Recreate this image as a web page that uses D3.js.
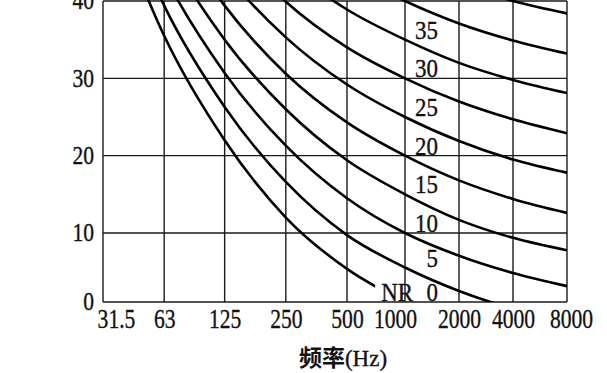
<!DOCTYPE html>
<html>
<head>
<meta charset="utf-8">
<script src="https://cdn.jsdelivr.net/npm/d3@7"></script>
<style>
  body { margin: 0; background: #fff; }
  svg { display: block; }
  text { font-family: "Liberation Serif", "DejaVu Serif", serif; fill: #111; stroke: #111; stroke-width: 0.35; }
</style>
</head>
<body>
<div id="chart"></div>
<script>
// octave band centre frequencies (Hz)
var freqs = [31.5, 63, 125, 250, 500, 1000, 2000, 4000, 8000];
var freqLabels = ["31.5", "63", "125", "250", "500", "1000", "2000", "4000", "8000"];
var yTicks = [0, 10, 20, 30, 40];

// sound pressure level (dB) of each NR curve at the frequencies above
var nr0  = [55.4, 35.5, 22.0, 12.0,  4.8,  0, -3.5, -6.1, -8.0];
var nr5  = [58.8, 39.4, 26.3, 16.6,  9.7,  5,  1.6, -1.0, -2.9];
var nr10 = [62.2, 43.4, 30.7, 21.3, 14.5, 10,  6.7,  4.2,  2.3];
var nr15 = [65.6, 47.3, 35.0, 26.0, 19.4, 15, 11.7,  9.3,  7.5];
var nr20 = [69.0, 51.3, 39.4, 30.6, 24.3, 20, 16.8, 14.4, 12.6];
var nr25 = [72.4, 55.2, 43.7, 35.3, 29.2, 25, 21.9, 19.5, 17.8];
var nr30 = [75.8, 59.2, 48.1, 39.9, 34.0, 30, 27.0, 24.7, 22.9];
var nr35 = [79.2, 63.1, 52.4, 44.6, 38.9, 35, 32.0, 29.8, 28.1];
var nr40 = [82.6, 67.1, 56.8, 49.2, 43.8, 40, 37.1, 34.9, 33.2];
var nr45 = [86.0, 71.0, 61.1, 53.9, 48.6, 45, 42.2, 40.0, 38.4];

var nrLevels = [0, 5, 10, 15, 20, 25, 30, 35, 40, 45];
var nrSeries = [nr0, nr5, nr10, nr15, nr20, nr25, nr30, nr35, nr40, nr45];
var labelledLevels = [35, 30, 25, 20, 15, 10, 5, 0];

var width = 607, height = 373;
var plotLeft = 103, plotRight = 567, plotTop = 1, plotBottom = 302;

var svg = d3.select('#chart')
  .append('svg')
  .attr('width', width)
  .attr('height', height);

// the scanned original is slightly uneven, so the scales get a few stops
var x = d3.scaleLog()
  .domain([31.5, 500, 1000, 8000])
  .range([plotLeft, 347, 405, plotRight]);
var y = d3.scaleLinear()
  .domain([0, 10, 40])
  .range([plotBottom, 233, plotTop]);

var defs = svg.append('defs');
defs.append('clipPath')
  .attr('id', 'plot-clip')
  .append('rect')
  .attr('x', plotLeft)
  .attr('y', -10)
  .attr('width', plotRight - plotLeft)
  .attr('height', plotBottom + 10);

// NR 0 stops just before its label
defs.append('clipPath')
  .attr('id', 'nr0-clip')
  .append('rect')
  .attr('x', plotLeft)
  .attr('y', -10)
  .attr('width', x(700) - plotLeft)
  .attr('height', plotBottom + 10);

// grid
var grid = svg.append('g').attr('stroke', '#1a1a1a').attr('stroke-width', 1.4);
grid.selectAll('.vline')
  .data(freqs)
  .enter()
  .append('line')
  .attr('class', 'vline')
  .attr('x1', (d) => x(d))
  .attr('x2', (d) => x(d))
  .attr('y1', y(40))
  .attr('y2', y(0));
grid.selectAll('.hline')
  .data(yTicks)
  .enter()
  .append('line')
  .attr('class', 'hline')
  .attr('x1', plotLeft)
  .attr('x2', plotRight)
  .attr('y1', (d) => y(d))
  .attr('y2', (d) => y(d));

// curves
var line = d3.line()
  .x((d, i) => x(freqs[i]))
  .y((d) => y(d))
  .curve(d3.curveMonotoneX);

svg.append('g')
  .attr('clip-path', 'url(#plot-clip)')
  .selectAll('path')
  .data(nrSeries)
  .enter()
  .append('path')
  .attr('d', line)
  .attr('fill', 'none')
  .attr('stroke', '#000')
  .attr('stroke-width', 2.6)
  .attr('clip-path', (d, i) => nrLevels[i] === 0 ? 'url(#nr0-clip)' : null);

// curve labels, just right of the 1000 Hz line
var labelX = x(1000) + 33;
var labels = svg.append('g').attr('font-size', 25.5);
labels.selectAll('text')
  .data(labelledLevels)
  .enter()
  .append('text')
  .attr('transform', (d) => 'translate(' + labelX + ',' + (y(nrSeries[nrLevels.indexOf(d)][5]) - 1) + ') scale(0.9,1)')
  .attr('text-anchor', 'end')
  .text((d) => d);
labels.append('text')
  .attr('transform', 'translate(' + (labelX - 25) + ',' + (y(0) - 1) + ') scale(0.9,1)')
  .attr('text-anchor', 'end')
  .text('NR');

// axes
var labelNudge = { "31.5": 13, "1000": -10, "8000": 4 };
var xAxis = svg.append('g')
  .attr('transform', 'translate(0,' + plotBottom + ')')
  .call(d3.axisBottom(x).tickValues(freqs).tickSize(0).tickPadding(7)
    .tickFormat((d, i) => freqLabels[i]));
xAxis.select('.domain').remove();
xAxis.selectAll('text')
  .attr('font-size', 27)
  .attr('font-family', '"Liberation Serif", serif')
  .attr('fill', '#111')
  .attr('transform', function (d, i) {
    return 'translate(' + (labelNudge[freqLabels[i]] || 0) + ',0) scale(0.8,1)';
  });

var yAxis = svg.append('g')
  .attr('transform', 'translate(' + plotLeft + ',0)')
  .call(d3.axisLeft(y).tickValues(yTicks).tickSize(0).tickPadding(9));
yAxis.select('.domain').remove();
yAxis.selectAll('text')
  .attr('font-size', 24.5)
  .attr('font-family', '"Liberation Serif", serif')
  .attr('fill', '#111')
  .attr('transform', 'scale(0.88,1)')
  .attr('x', -9 / 0.88);

// axis title
var title = svg.append('text')
  .attr('x', 343)
  .attr('y', 366)
  .attr('text-anchor', 'middle')
  .attr('font-size', 23);
title.append('tspan')
  .attr('font-family', '"Noto Sans CJK SC", sans-serif')
  .attr('font-weight', 'bold')
  .attr('stroke-width', 0)
  .text('频率');
title.append('tspan')
  .text('(Hz)');
</script>
</body>
</html>
